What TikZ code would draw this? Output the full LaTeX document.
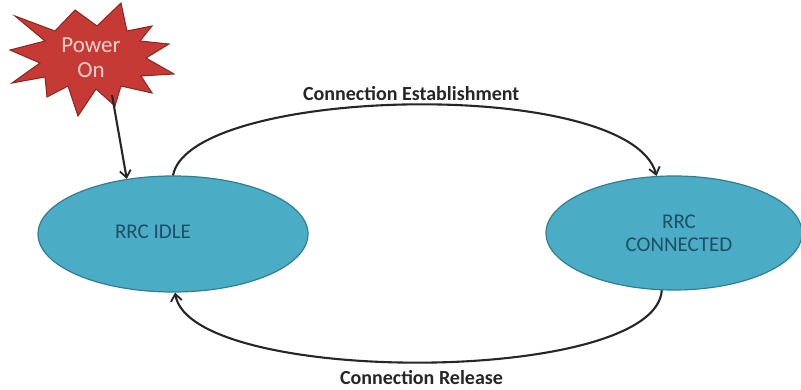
\documentclass[tikz,border=0pt]{standalone}
\usepackage{fontspec}
\setmainfont{Carlito}
\usetikzlibrary{arrows.meta,shapes.geometric}
\definecolor{statefill}{HTML}{4BACC6}
\definecolor{stateline}{HTML}{2F7E93}
\definecolor{statetext}{HTML}{1E4F66}
\definecolor{burstfill}{HTML}{C63A35}
\definecolor{burstline}{HTML}{8E2420}
\definecolor{bursttext}{HTML}{F7CFCB}
\tikzset{
  state/.style={ellipse, draw=stateline, line width=1.2pt, fill=statefill,
    inner sep=0pt, text=statetext, font=\fontsize{21}{25}\selectfont, align=center},
  trans/.style={draw=black!85, line width=2.1pt,
    -{Straight Barb[length=7pt,width=11pt,line width=1.8pt]}},
  translabel/.style={font=\bfseries\fontsize{20}{24}\selectfont, text=black!85},
}
\begin{document}
\begin{tikzpicture}[x=1pt,y=-1pt]
\useasboundingbox (0,0) rectangle (801,390);

% the two RRC states
\node[state, minimum width=270pt, minimum height=116pt] (idle) at (173,234) {};
\node[text=statetext, font=\fontsize{21}{25}\selectfont] (idletxt) at (153,232) {RRC IDLE};
\node[state, minimum width=256pt, minimum height=114pt] (conn) at (674,233) {};
\node[text=statetext, font=\fontsize{21}{25}\selectfont, align=center] (conntxt) at (679,233) {RRC\\[-2pt]CONNECTED};

% power-on burst
\draw[fill=burstfill, draw=burstline, line width=1pt, line join=miter]
  (15,16) -- (55,31) -- (75,10) -- (97,26) -- (121,3) -- (127,31) -- (152,26)
  -- (140,41) -- (169,44) -- (146,58) -- (174,74) -- (141,76) -- (152,93)
  -- (121,86) -- (115,106) -- (96,89) -- (78,116) -- (68,86) -- (47,97)
  -- (45,77) -- (12,83) -- (40,63) -- (10,50) -- (45,41) -- cycle;
\node[text=bursttext, font=\fontsize{23}{26}\selectfont, align=center] (power) at (91,58) {Power\\[-1pt]On};
\coordinate (burstfoot) at (112,95);

% transitions
\draw[trans] (burstfoot) -- (idle.130);
\draw[trans] (idle.north) .. controls (190,86) and (630,76) .. (conn.107)
  node[pos=0.5, above=0pt, translabel] (estab) {Connection Establishment};
\draw[trans] (conn.258) .. controls (655,386) and (190,386) .. (idle.272)
  node[pos=0.5, below=4pt, translabel] (release) {Connection Release};
\end{tikzpicture}
\end{document}
